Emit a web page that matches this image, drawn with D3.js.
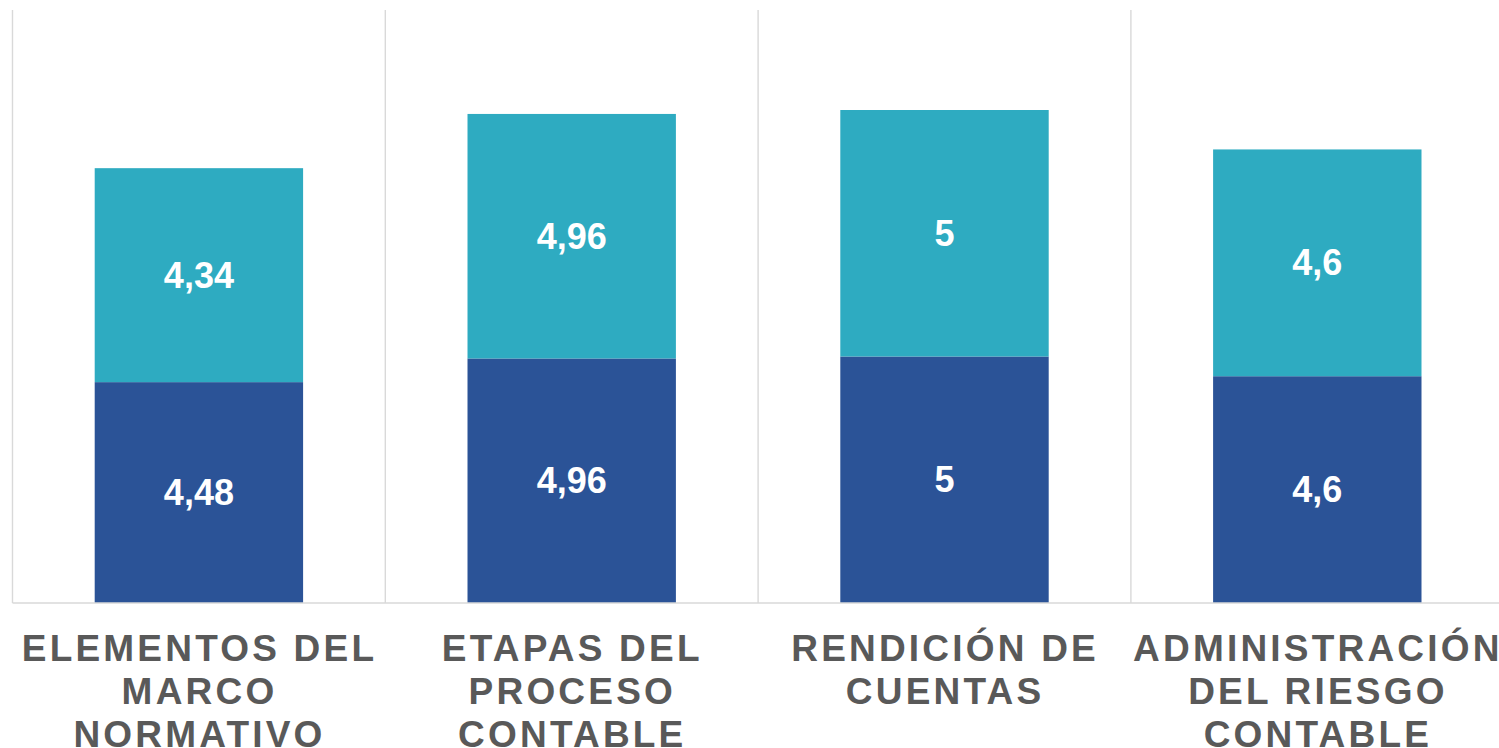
<!DOCTYPE html>
<html>
<head>
<meta charset="utf-8">
<script src="https://cdn.jsdelivr.net/npm/d3@7"></script>
<style>
  html, body { margin: 0; padding: 0; background: #fff; }
  svg { display: block; }
</style>
</head>
<body>
<svg></svg>
<script>
// Data
const categories = [
    "ELEMENTOS DEL MARCO NORMATIVO",
    "ETAPAS DEL PROCESO CONTABLE",
    "RENDICIÓN DE CUENTAS",
    "ADMINISTRACIÓN DEL RIESGO CONTABLE"
];
// how each category label wraps in the picture
const categoryLines = [
    ["ELEMENTOS DEL", "MARCO", "NORMATIVO"],
    ["ETAPAS DEL", "PROCESO", "CONTABLE"],
    ["RENDICIÓN DE", "CUENTAS"],
    ["ADMINISTRACIÓN", "DEL RIESGO", "CONTABLE"]
];
const seriesBottom = [4.48, 4.96, 5, 4.6];
const seriesTop = [4.34, 4.96, 5, 4.6];
const yDomain = [0, 12];

// Dimensions
const svgWidth = 1499;
const svgHeight = 748;
const plot = { left: 12.5, right: 1503.7, top: 11.4, bottom: 603 };
const colors = ["#2B5397", "#2EABC1"];

const svg = d3.select("svg")
    .attr("width", svgWidth)
    .attr("height", svgHeight);

// Scales
const xGrid = d3.scaleBand()
    .domain(d3.range(categories.length))
    .range([plot.left, plot.right])
    .padding(0);

const xScale = d3.scaleBand()
    .domain(d3.range(categories.length))
    .range([plot.left, plot.right])
    .paddingInner(0.441)
    .paddingOuter(0.2205);

const yScale = d3.scaleLinear()
    .domain(yDomain)
    .range([plot.bottom, plot.top]);

// Vertical separators between categories
svg.append("g")
    .selectAll("line")
    .data(d3.range(categories.length))
    .enter()
    .append("line")
    .attr("x1", d => xGrid(d))
    .attr("x2", d => xGrid(d))
    .attr("y1", 10)
    .attr("y2", yScale(0))
    .attr("stroke", "#D9D9D9")
    .attr("stroke-width", 1.4);

// Stack the two series
const rows = categories.map((c, i) => ({ i: i, bottom: seriesBottom[i], top: seriesTop[i] }));
const stacked = d3.stack().keys(["bottom", "top"])(rows);

const layers = svg.selectAll(".layer")
    .data(stacked)
    .enter()
    .append("g")
    .attr("class", "layer")
    .attr("fill", (d, k) => colors[k]);

layers.selectAll("rect")
    .data(d => d)
    .enter()
    .append("rect")
    .attr("x", d => xScale(d.data.i))
    .attr("y", d => yScale(d[1]))
    .attr("width", xScale.bandwidth())
    .attr("height", d => yScale(d[0]) - yScale(d[1]));

// Value labels
const fmt = v => String(v).replace(".", ",");
layers.selectAll("text")
    .data(d => d.map(p => ({ p: p, v: p[1] - p[0] })))
    .enter()
    .append("text")
    .attr("x", d => xScale(d.p.data.i) + xScale.bandwidth() / 2)
    .attr("y", d => (yScale(d.p[0]) + yScale(d.p[1])) / 2)
    .attr("dy", "0.35em")
    .attr("text-anchor", "middle")
    .attr("font-family", "'Liberation Sans', Arial, sans-serif")
    .attr("font-weight", "bold")
    .attr("font-size", "36px")
    .attr("fill", "#FFFFFF")
    .text(d => fmt(+d.v.toFixed(2)));

// Baseline
svg.append("line")
    .attr("x1", plot.left)
    .attr("x2", svgWidth)
    .attr("y1", yScale(0))
    .attr("y2", yScale(0))
    .attr("stroke", "#D9D9D9")
    .attr("stroke-width", 1.6);

// Category labels
const labels = svg.append("g")
    .selectAll("text")
    .data(categoryLines)
    .enter()
    .append("text")
    .attr("text-anchor", "middle")
    .attr("font-family", "'Liberation Sans', Arial, sans-serif")
    .attr("font-weight", "bold")
    .attr("font-size", "37px")
    .attr("letter-spacing", "3.2px")
    .attr("fill", "#595959");

labels.selectAll("tspan")
    .data((lines, i) => lines.map(l => ({ l: l, i: i })))
    .enter()
    .append("tspan")
    .attr("x", d => xGrid(d.i) + xGrid.bandwidth() / 2 + 0.6)
    .attr("y", (d, j) => 660.5 + j * 43.4)
    .text(d => d.l);
</script>
</body>
</html>
